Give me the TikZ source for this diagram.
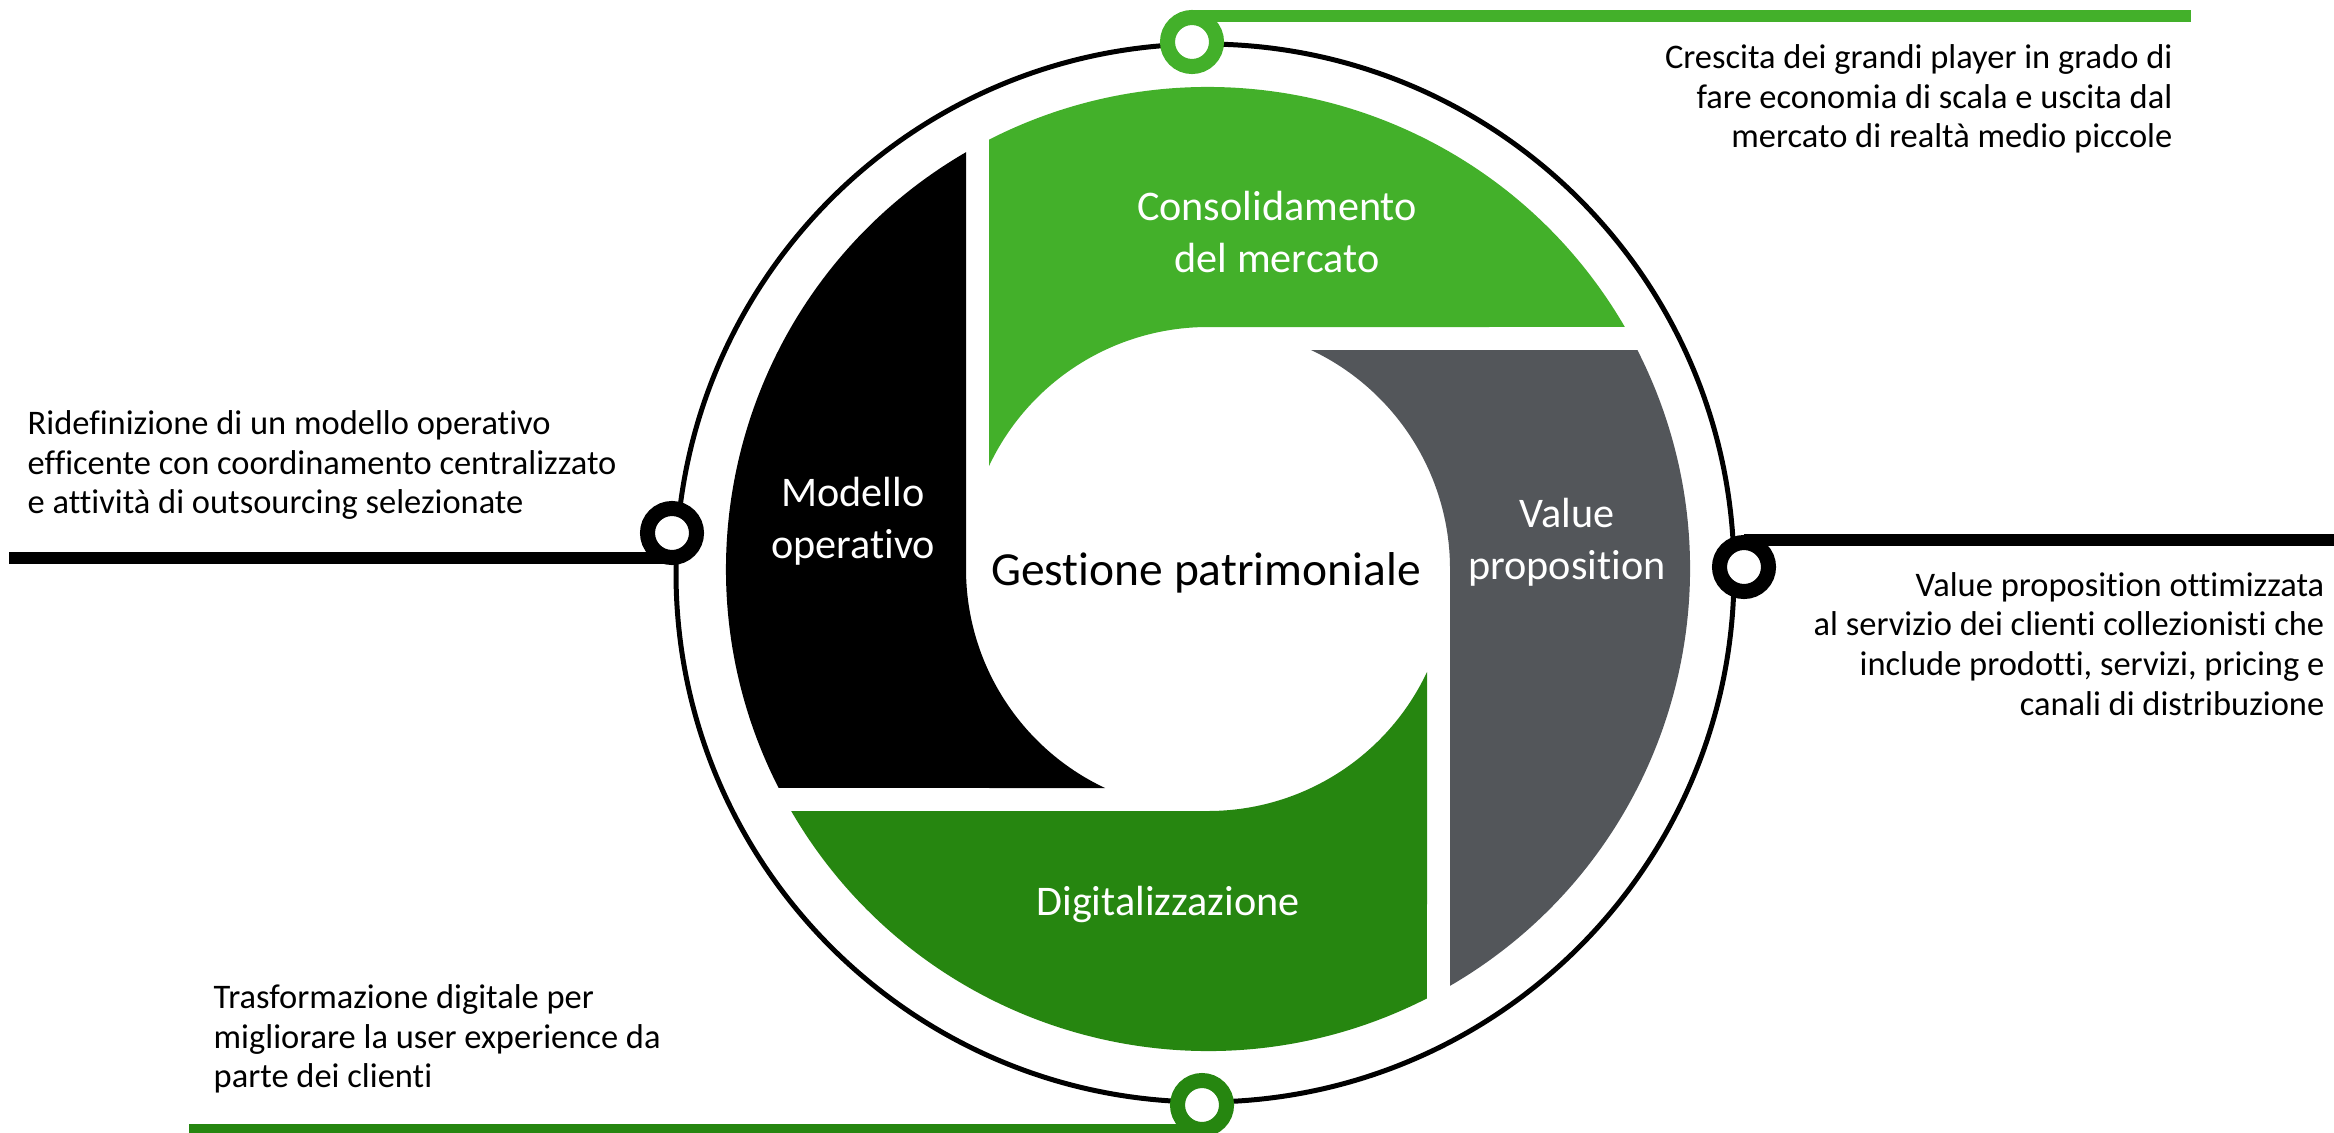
\documentclass[tikz,border=0pt]{standalone}
\usepackage{fontspec}
\setmainfont{Carlito}[RawFeature={-liga,-dlig,-clig}]
\usetikzlibrary{calc}
\definecolor{lightgreen}{HTML}{43B02A}
\definecolor{darkgreen}{HTML}{268610}
\definecolor{slate}{HTML}{53565A}

\begin{document}
\begin{tikzpicture}[x=0.01cm,y=0.01cm,
  marker/.style={circle,draw=#1,fill=white,line width=4.27pt,minimum size=0.49cm,inner sep=0pt},
  lead/.style={draw=#1,line width=3.4pt},
  blocklabel/.style={text=white,align=center,font=\fontsize{12}{14.8}\selectfont},
  desc/.style={align=#1,inner sep=0pt,font=\fontsize{9.8}{11.3}\selectfont}]
\useasboundingbox (0,0) rectangle (2334,1132);
\coordinate (o) at (1208,563);   % centre of the blades
\coordinate (r) at (1205,559);   % centre of the ring
% Blades, one per quarter
\foreach \col/\rot in {lightgreen/0, slate/-90, darkgreen/180, black/90}{
  \begin{scope}[shift={(o)},rotate=\rot]
    \fill[\col] (117.02:482) arc[start angle=117.02,end angle=30.14,radius=482]
      -- (90:242) arc[start angle=90,end angle=154.82,radius=242] -- cycle;
  \end{scope}
}
% Outer ring
\draw[line width=1.42pt] (r) circle[radius=529];
% Points on the ring and ends of the leads
\coordinate (ptop) at (1192,1090);
\coordinate (pleft) at (672,599);
\coordinate (pright) at (1744,565);
\coordinate (pbottom) at (1202,27);
\coordinate (etop) at (2191,1116);
\coordinate (eleft) at (9,574);
\coordinate (eright) at (2334,592);
\coordinate (ebottom) at (189,2);
% Leads
\draw[lead=lightgreen] (etop) -- (etop -| ptop);
\draw[lead=black] (eleft) -- (eleft -| pleft);
\draw[lead=black] (eright) -- (eright -| pright);
\draw[lead=darkgreen] (ebottom) -- (ebottom -| pbottom);
% Markers
\node[marker=lightgreen] (mtop) at (ptop) {};
\node[marker=black] (mleft) at (pleft) {};
\node[marker=black] (mright) at (pright) {};
\node[marker=darkgreen] (mbottom) at (pbottom) {};
% Labels
\node[blocklabel] (cons) at (1277,900) {Consolidamento\\del mercato};
\node[blocklabel] (value) at (1567,590) {Value\\proposition};
\node[blocklabel] (digit) at (1168,228) {Digitalizzazione};
\node[blocklabel] (model) at (853,611) {Modello\\operativo};
\node[font=\fontsize{13.5}{16}\selectfont] (core) at (1206,559) {Gestione patrimoniale};
% Descriptions
\node[desc=right,anchor=east] (dtop) at (2173,1033)
  {Crescita dei grandi player in grado di\\fare economia di scala e uscita dal\\mercato di realtà medio piccole};
\node[desc=left,anchor=west] (dleft) at (27,667)
  {Ridefinizione di un modello operativo\\efficente con coordinamento centralizzato\\e attività di outsourcing selezionate};
\node[desc=right,anchor=east] (dright) at (2325,488)
  {Value proposition ottimizzata\\al servizio dei clienti collezionisti che\\include prodotti, servizi, pricing e\\canali di distribuzione};
\node[desc=left,anchor=west] (dbottom) at (213,93)
  {Trasformazione digitale per\\migliorare la user experience da\\parte dei clienti};
\end{tikzpicture}
\end{document}
